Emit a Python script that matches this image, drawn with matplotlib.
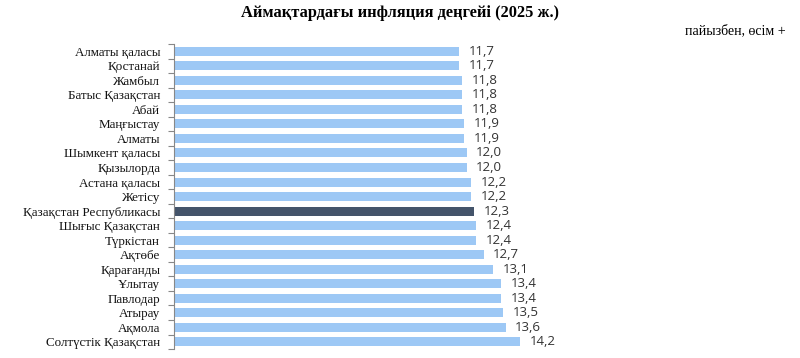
import matplotlib
matplotlib.use("Agg")
import matplotlib.pyplot as plt
import numpy as np

categories = ["Алматы қаласы", "Қостанай", "Жамбыл", "Батыс Қазақстан", "Абай",
              "Маңғыстау", "Алматы", "Шымкент қаласы", "Қызылорда", "Астана қаласы",
              "Жетісу", "Қазақстан Республикасы", "Шығыс Қазақстан", "Түркістан",
              "Ақтөбе", "Қарағанды", "Ұлытау", "Павлодар", "Атырау", "Ақмола",
              "Солтүстік Қазақстан"]
values = [11.7, 11.7, 11.8, 11.8, 11.8, 11.9, 11.9, 12.0, 12.0, 12.2, 12.2,
          12.3, 12.4, 12.4, 12.7, 13.1, 13.4, 13.4, 13.5, 13.6, 14.2]
highlight = "Қазақстан Республикасы"
title = "Аймақтардағы инфляция деңгейі (2025 ж.)"
unit_note = "пайызбен, өсім +"

fig = plt.figure(figsize=(8, 3.58), dpi=100)
ax = fig.add_axes([0.2175, 0.025, 0.4875, 0.852])

n = len(categories)
y = np.arange(n)
colors = ["#44546A" if c == highlight else "#9DC8F5" for c in categories]
ax.barh(y, values, height=0.62, color=colors)
ax.set_ylim(n - 0.5, -0.5)
ax.set_xlim(0, 16)

for yi, v in zip(y, values):
    ax.annotate(f"{v:.1f}".replace(".", ","), (v, yi), xytext=(7, 0),
                textcoords="offset points", va="center", ha="left",
                fontsize=9.5, color="#333333", family="Open Sans")

ax.set_yticks(y)
ax.set_yticklabels(categories, family="Liberation Serif", fontsize=9.4, color="#111111")
ax.tick_params(axis="y", which="major", length=0, pad=10)
ax.set_yticks(np.arange(-0.5, n, 1), minor=True)
ax.tick_params(axis="y", which="minor", length=4, color="#888888", width=0.8)
ax.set_xticks([])
for s in ["top", "right", "bottom"]:
    ax.spines[s].set_visible(False)
ax.spines["left"].set_color("#888888")
ax.spines["left"].set_linewidth(0.8)

fig.text(0.5, 0.963, title, ha="center", va="center", fontsize=11.8,
         fontweight="bold", family="Liberation Serif")
fig.text(0.982, 0.915, unit_note, ha="right", va="center", fontsize=10,
         family="Liberation Serif")

fig.savefig("out.png", dpi=100)
